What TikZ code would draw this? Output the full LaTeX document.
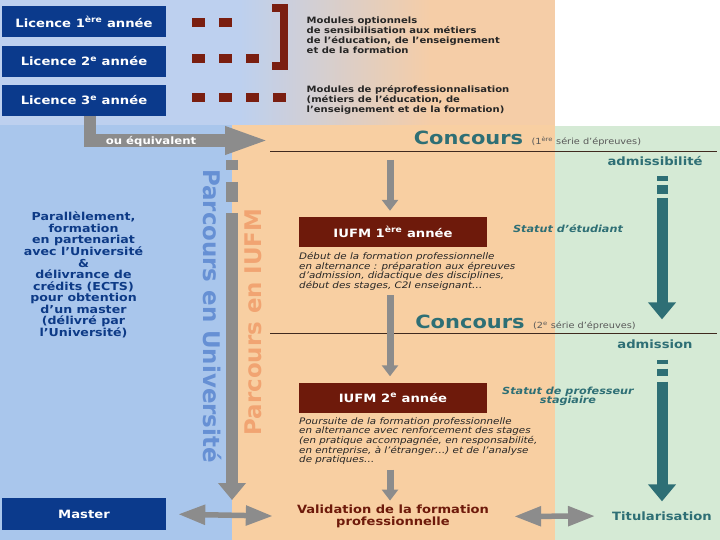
\documentclass[tikz,border=0pt]{standalone}
\usepackage{fontspec}
\setmainfont{DejaVu Sans}[FakeStretch=1.15]
\newfontfamily\rotfont{DejaVu Sans}
\usepackage{xcolor}
\usetikzlibrary{arrows.meta, positioning}

\definecolor{licblue}{HTML}{0B3A8C}
\definecolor{iufmred}{HTML}{6E1A0B}
\definecolor{dashred}{HTML}{7A1E10}
\definecolor{tealc}{HTML}{2E6F75}
\definecolor{arrgrey}{HTML}{8C8C8C}
\definecolor{univbg}{HTML}{A9C6EC}
\definecolor{iufmbg}{HTML}{F8CFA2}
\definecolor{statbg}{HTML}{D5EAD5}
\definecolor{topblue}{HTML}{BDD0EF}
\definecolor{toppeach}{HTML}{F5CDA7}
\definecolor{univtext}{HTML}{0D3A86}
\definecolor{univrot}{HTML}{6690D4}
\definecolor{iufmrot}{HTML}{F1A472}
\definecolor{conline}{HTML}{402A1F}

\begin{document}
\begin{tikzpicture}[
  x=1bp, y=-1bp,
  licbox/.style={fill=licblue, text=white, font=\bfseries\fontsize{11.5}{13}\selectfont,
                 minimum width=164bp, minimum height=31bp, inner sep=0pt},
  iufmbox/.style={fill=iufmred, text=white, font=\bfseries\fontsize{11.5}{13}\selectfont,
                  minimum width=188bp, minimum height=30bp, inner sep=0pt},
  note/.style={font=\itshape\fontsize{9}{9.7}\selectfont, align=left,
               anchor=north west, inner sep=0pt, text=black!85},
  modtext/.style={font=\bfseries\fontsize{8.75}{10}\selectfont, align=left,
                  anchor=west, inner sep=0pt, text=black!85},
  conc/.style={font=\bfseries\fontsize{18.3}{20}\selectfont, text=tealc, inner sep=0pt},
  serie/.style={font=\fontsize{8.5}{10}\selectfont, text=black!65, inner sep=0pt},
  tealtext/.style={font=\bfseries\fontsize{11.5}{13}\selectfont, text=tealc, inner sep=0pt},
  statut/.style={font=\bfseries\itshape\fontsize{9.8}{9.6}\selectfont, text=tealc,
                 align=center, inner sep=0pt},
  rottext/.style={font=\rotfont\bfseries\fontsize{23}{25}\selectfont, inner sep=0pt},
  midarr/.style={draw=arrgrey, line width=7bp, -{Triangle[length=11bp,width=16bp]}},
  duoarr/.style={draw=arrgrey, line width=5.5bp,
                 {Triangle[length=27bp,width=19bp]}-{Triangle[length=27bp,width=19bp]}},
  tealarr/.style={draw=tealc, line width=11bp, -{Triangle[length=17bp,width=27bp]}}
]
\useasboundingbox (0,0) rectangle (720,540);

%% backgrounds
\fill[topblue] (0,0) rectangle (240,125);
\shade[left color=topblue, right color=toppeach] (240,0) rectangle (430,125);
\fill[toppeach] (430,0) rectangle (555,125);
\fill[univbg] (0,125) rectangle (232,540);
\fill[iufmbg] (232,125) rectangle (555,540);
\fill[statbg] (555,126) rectangle (720,540);

%% licence years
\node[licbox] (lic1) at (84,22) {Licence 1\textsuperscript{ère} année};
\node[licbox, below=8bp of lic1] (lic2) {Licence 2\textsuperscript{e} année};
\node[licbox, below=7.5bp of lic2] (lic3) {Licence 3\textsuperscript{e} année};

%% module marks
\foreach \r/\n in {22.5/2, 59/3, 98/4}
  \foreach \k in {1,...,\n}
    \fill[dashred] ({192+27*(\k-1)},\r-4.5) rectangle +(13,9);
\draw[dashred, line width=8bp] (272,8.5) -- (284,8.5) -- (284,66.5) -- (272,66.5);

\node[modtext] (mod1) at (306.5,35) {Modules optionnels\\de sensibilisation aux métiers\\de l'éducation, de l'enseignement\\et de la formation};
\node[modtext] (mod2) at (306.5,99.5) {Modules de préprofessionnalisation\\(métiers de l'éducation, de\\l'enseignement et de la formation)};

%% ou equivalent
\coordinate (equivend) at (270,140.5);
\draw[draw=arrgrey, line width=12.5bp, -{Triangle[length=45bp,width=25bp]}]
  ([xshift=6bp]lic3.south) |- (equivend);
\node[font=\bfseries\fontsize{10.2}{12}\selectfont, text=white, inner sep=0pt] (equiv) at (151,141) {ou équivalent};

%% concours lines
\draw[conline, line width=0.8bp] (270,151.5) -- (717,151.5);
\draw[conline, line width=0.8bp] (270,333.5) -- (717,333.5);

\node[conc] (conc1) at (468.5,138) {Concours};
\node[serie, anchor=base west] (serie1) at ([xshift=8bp]conc1.base east) {(1\textsuperscript{ère} série d'épreuves)};
\node[conc] (conc2) at (470,322) {Concours};
\node[serie, anchor=base west] (serie2) at ([xshift=8bp]conc2.base east) {(2\textsuperscript{e} série d'épreuves)};

\node[tealtext] (admissib) at (655,161) {admissibilité};
\node[tealtext] (admis) at (655,344) {admission};

%% parcours labels
\node[rottext, rotate=-90, text=univrot] (paruniv) at (212,316) {Parcours en Université};
\node[rottext, rotate=90, text=iufmrot] (pariufm) at (253,322) {Parcours en IUFM};

\node[font=\bfseries\fontsize{11}{11.6}\selectfont, text=univtext, align=center, inner sep=0pt]
  (parall) at (83.5,275) {Parallèlement,\\formation\\en partenariat\\avec l'Université\\\&\\délivrance de\\crédits (ECTS)\\pour obtention\\d'un master\\(délivré par\\l'Université)};

%% IUFM years
\node[iufmbox] (iufm1) at (393,232) {IUFM 1\textsuperscript{ère} année};
\node[note] (note1) at (299,252) {Début de la formation professionnelle\\en alternance : préparation aux épreuves\\d'admission, didactique des disciplines,\\début des stages, C2I enseignant…};
\node[iufmbox] (iufm2) at (393,397.5) {IUFM 2\textsuperscript{e} année};
\node[note] (note2) at (299,417) {Poursuite de la formation professionnelle\\en alternance avec renforcement des stages\\(en pratique accompagnée, en responsabilité,\\en entreprise, à l'étranger…) et de l'analyse\\de pratiques…};

\node[statut] (statut1) at (568,229) {Statut d'étudiant};
\node[statut] (statut2) at (568,396.5) {Statut de professeur\\stagiaire};

%% bottom row
\node[licbox, minimum height=32bp] (master) at (84,514) {Master};
\node[font=\bfseries\fontsize{11.4}{12.5}\selectfont, text=iufmred, align=center, inner sep=0pt]
  (valid) at (393,516.5) {Validation de la formation\\professionnelle};
\node[tealtext] (titul) at (662,516) {Titularisation};

%% main flow arrows
\coordinate (midx) at (390,160);
\draw[midarr] (midx) -- ([yshift=6bp]iufm1.north -| midx);
\draw[midarr] ([yshift=-5bp]note1.south -| midx) -- ([yshift=6bp]iufm2.north -| midx);
\draw[midarr] ([yshift=-5bp]note2.south -| midx) -- ([yshift=4bp]valid.north -| midx);

%% university rail
\coordinate (univtop) at (232,160);
\coordinate (univend) at (232,500);
\draw[draw=arrgrey, line width=12bp, -{Triangle[length=17bp,width=27bp]},
      dash pattern=on 10bp off 12bp on 20bp off 11bp on 400bp off 400bp]
  (univtop) -- (univend);

%% status arrows
\coordinate (tealx) at (662,0);
\draw[tealarr, shorten <=10bp, shorten >=20bp,
      dash pattern=on 5bp off 4bp on 9bp off 4bp on 300bp off 300bp]
  (admissib.south -| tealx) -- (admis.north -| tealx);
\draw[tealarr, shorten <=11bp, shorten >=10bp,
      dash pattern=on 4bp off 5bp on 7bp off 6bp on 300bp off 300bp]
  (admis.south -| tealx) -- (titul.north -| tealx);

%% equivalences
\draw[duoarr, shorten <=12bp, shorten >=24bp] (master.east) -- (valid.west);
\draw[duoarr, shorten <=25bp, shorten >=17bp] (valid.east) -- (titul.west);
\end{tikzpicture}
\end{document}
